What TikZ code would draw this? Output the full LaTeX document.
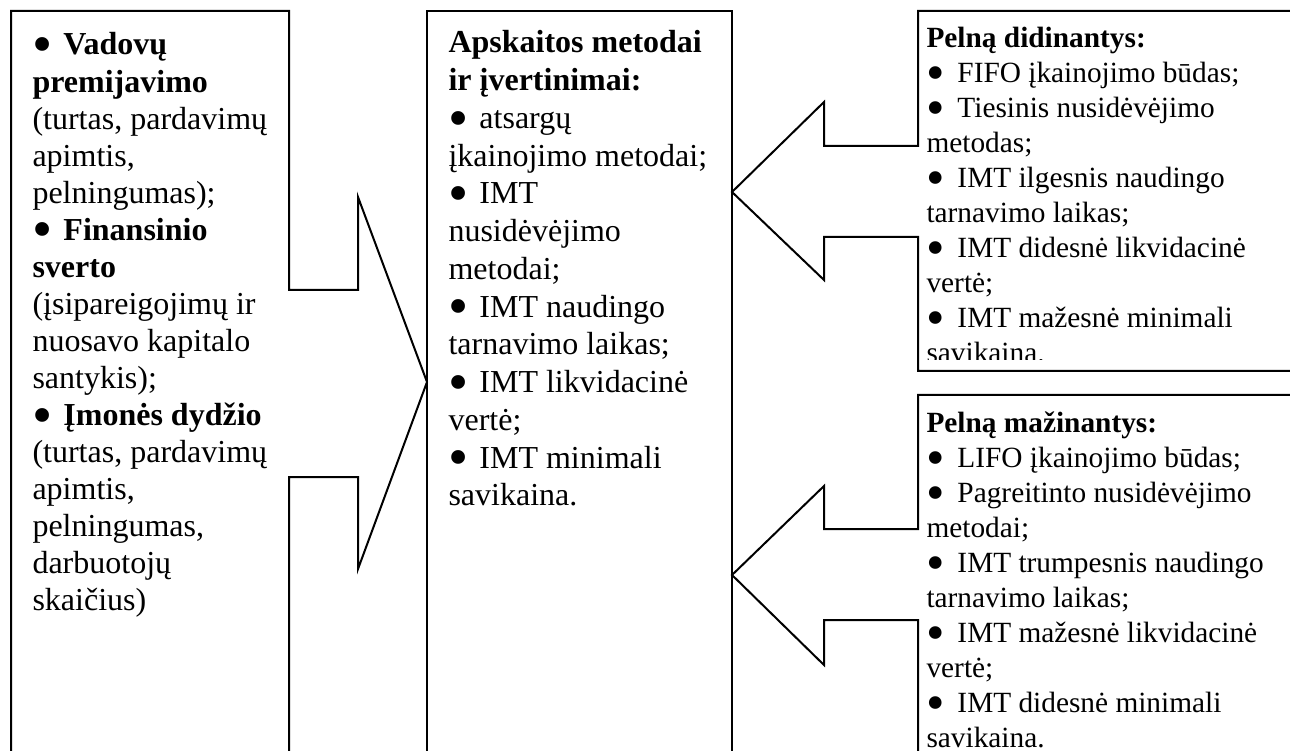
\documentclass[tikz,border=0pt]{standalone}
\usepackage{fontspec}
\setmainfont{Liberation Serif}
\usepackage{tikz}
\tikzset{outline/.style={draw, line width=0.75pt, line join=miter}}
\tikzset{bigtxt/.style={anchor=base west, inner sep=0pt, align=flush left, text width=#1, font=\fontsize{12}{13.9}\selectfont}}
\tikzset{smalltxt/.style={anchor=base west, inner sep=0pt, align=flush left, text width=#1, font=\fontsize{11}{13.1}\selectfont}}
\newcommand\bul{\makebox[11.6pt][l]{\raisebox{-0.27em}{\scalebox{1.8}{\textbullet}}}}

\begin{document}
\begin{tikzpicture}[x=0.375pt, y=-0.375pt]
\useasboundingbox (0,0) rectangle (1290,751);
\clip (0,0) rectangle (1290,751);
\draw[outline] (11,760) -- (11,11) -- (289,11) -- (289,290) -- (358,290) -- (358,197) -- (427,382) -- (358,569) -- (358,477) -- (289,477) -- (289,760);
\draw[outline] (427,760) -- (427,11) -- (732,11) -- (732,760);
\draw[outline] (1300,11) -- (918,11) -- (918,146) -- (824,146) -- (824,102) -- (732,192) -- (824,280) -- (824,237) -- (918,237) -- (918,371) -- (1300,371);
\draw[outline] (1300,395) -- (918,395) -- (918,529) -- (824,529) -- (824,486) -- (732,575) -- (824,665) -- (824,620) -- (918,620) -- (918,760);
\node[bigtxt=100pt] (factors) at (32,55) {\bul\textbf{Vadovų}\\ \textbf{premijavimo}\\ (turtas, pardavimų\\ apimtis,\\ pelningumas);\\ \bul\textbf{Finansinio}\\ \textbf{sverto}\\ (įsipareigojimų ir\\ nuosavo kapitalo\\ santykis);\\ \bul\textbf{Įmonės dydžio}\\ (turtas, pardavimų\\ apimtis,\\ pelningumas,\\ darbuotojų\\ skaičius)};
\node[bigtxt=115pt, font=\fontsize{12}{14.15}\selectfont] (methods) at (448,53) {\textbf{Apskaitos metodai}\\ \textbf{ir įvertinimai:}\\ \bul atsargų\\ įkainojimo metodai;\\ \bul IMT\\ nusidėvėjimo\\ metodai;\\ \bul IMT naudingo\\ tarnavimo laikas;\\ \bul IMT likvidacinė\\ vertė;\\ \bul IMT minimali\\ savikaina.};
\begin{scope}
\clip (918,11) rectangle (1290,360);
\node[smalltxt=140pt] (raise) at (926,48) {\textbf{Pelną didinantys:}\\ \bul FIFO įkainojimo būdas;\\ \bul Tiesinis nusidėvėjimo\\ metodas;\\ \bul IMT ilgesnis naudingo\\ tarnavimo laikas;\\ \bul IMT didesnė likvidacinė\\ vertė;\\ \bul IMT mažesnė minimali\\ savikaina.};
\end{scope}
\node[smalltxt=140pt] (lower) at (926,433) {\textbf{Pelną mažinantys:}\\ \bul LIFO įkainojimo būdas;\\ \bul Pagreitinto nusidėvėjimo\\ metodai;\\ \bul IMT trumpesnis naudingo\\ tarnavimo laikas;\\ \bul IMT mažesnė likvidacinė\\ vertė;\\ \bul IMT didesnė minimali\\ savikaina.};
\end{tikzpicture}
\end{document}
